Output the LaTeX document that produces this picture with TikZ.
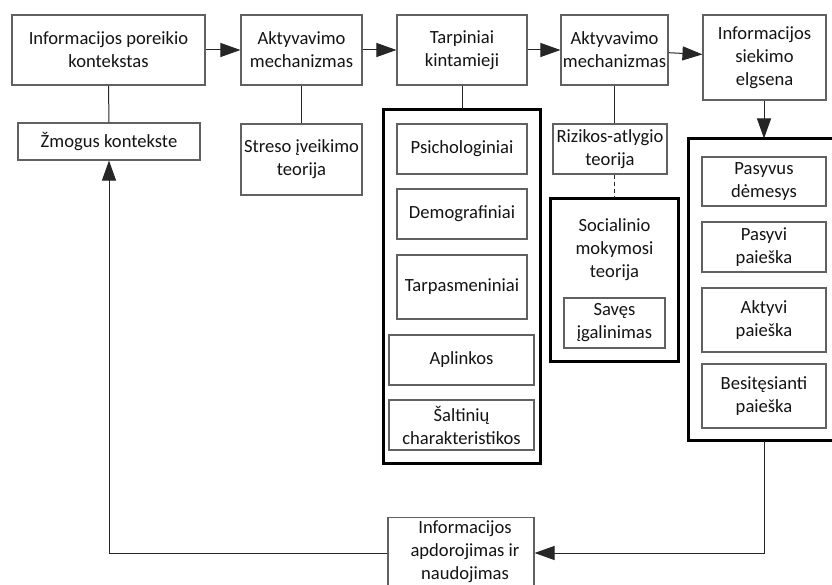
\documentclass[tikz,border=0pt]{standalone}
\usepackage{fontspec}
\setmainfont{Carlito}
\usetikzlibrary{arrows.meta}
\begin{document}
\begin{tikzpicture}[x=1pt,y=-1pt,
  label font/.style={font=\fontsize{18.6}{23}\selectfont, text=black!92},
  box/.style={draw=black!62, line width=1.1pt, fill=white, align=center,
    inner sep=0pt, label font},
  frame/.style={draw=black, line width=3pt},
  link/.style={draw=black!85, line width=1pt},
  arr/.style={link, -{Triangle[length=20pt,width=14pt]}}]
\useasboundingbox (0,0) rectangle (832,585);
\clip (0,0) rectangle (832,585);

% top row
\node[box, minimum width=193, minimum height=70] (ctx) at (108.5,50) {Informacijos poreikio\\kontekstas};
\node[box, minimum width=121, minimum height=70] (act1) at (301.5,50) {Aktyvavimo\\mechanizmas};
\node[box, minimum width=130, minimum height=70] (mid) at (462,50) {Tarpiniai\\kintamieji};
\node[box, minimum width=107, minimum height=70] (act2) at (614.5,50) {Aktyvavimo\\mechanizmas};
\node[box, minimum width=123, minimum height=85] (seek) at (764.5,57.5) {Informacijos\\siekimo\\elgsena};

% second row
\node[box, minimum width=182, minimum height=37] (person) at (109,141.5) {Žmogus kontekste};
\node[box, minimum width=121, minimum height=71] (stress) at (301.5,159.5) {Streso įveikimo\\teorija};

% intervening variables
\draw[frame] (383.5,109.5) rectangle (540.5,463.5);
\coordinate (midframe) at (462,109.5);
\node[box, minimum width=130, minimum height=50] (psy) at (462,149) {Psichologiniai};
\node[box, minimum width=130, minimum height=50] (demo) at (462,214) {Demografiniai};
\node[box, minimum width=130, minimum height=64] (inter) at (462,287) {Tarpasmeniniai};
\node[box, minimum width=145, minimum height=50] (env) at (461.5,360) {Aplinkos};
\node[box, minimum width=145, minimum height=50] (src) at (461.5,425) {Šaltinių\\charakteristikos};

% risk / reward and social learning
\node[box, minimum width=114, minimum height=50] (risk) at (610,149) {Rizikos-atlygio\\teorija};
\draw[frame] (550.5,198.5) rectangle (678.5,361.5);
\coordinate (socframe) at (614.5,198.5);
\node[align=center, inner sep=0pt, label font] (soc) at (614.5,250) {Socialinio\\mokymosi\\teorija};
\node[box, minimum width=101, minimum height=50] (self) at (614.5,323) {Savęs\\įgalinimas};

% information seeking modes
\draw[frame] (688.5,138.5) rectangle (845,440.5);
\coordinate (seekframetop) at (764,138.5);
\coordinate (seekframebot) at (764,440.5);
\node[box, minimum width=124, minimum height=49] (passatt) at (764,181.5) {Pasyvus\\dėmesys};
\node[box, minimum width=124, minimum height=50] (passsearch) at (764,247) {Pasyvi\\paieška};
\node[box, minimum width=124, minimum height=64] (actsearch) at (764,320) {Aktyvi\\paieška};
\node[box, minimum width=124, minimum height=64] (ongoing) at (764,396) {Besitęsianti\\paieška};

% processing and use
\node[box, minimum width=146, minimum height=90, anchor=north] (use) at (461,517) {};
\node[align=center, inner sep=0pt, label font] (usetext) at (465,552) {Informacijos\\apdorojimas ir\\naudojimas};

% main flow
\draw[arr] (ctx) -- (act1);
\draw[arr] (act1) -- (mid);
\draw[arr] (mid) -- (act2);
\draw[arr] (act2) -- (seek);
\draw[arr] (seek.south -| seekframetop) -- (seekframetop);

% theory links
\draw[link] (ctx.south) -- (person.north);
\draw[link] (act1.south) -- (stress.north);
\draw[link] (mid.south) -- (midframe);
\draw[link] (act2.south) -- (act2.south |- risk.north);
\draw[link, dash pattern=on 4pt off 3pt] (risk.south -| socframe) -- (socframe);

% feedback loop
\coordinate (loopR) at (764,553);
\coordinate (loopL) at (109,553);
\draw[arr] (seekframebot) -- (loopR) -- (use.east |- loopR);
\draw[arr] (use.west |- loopL) -- (loopL) -- (person.south -| loopL);
\end{tikzpicture}
\end{document}
